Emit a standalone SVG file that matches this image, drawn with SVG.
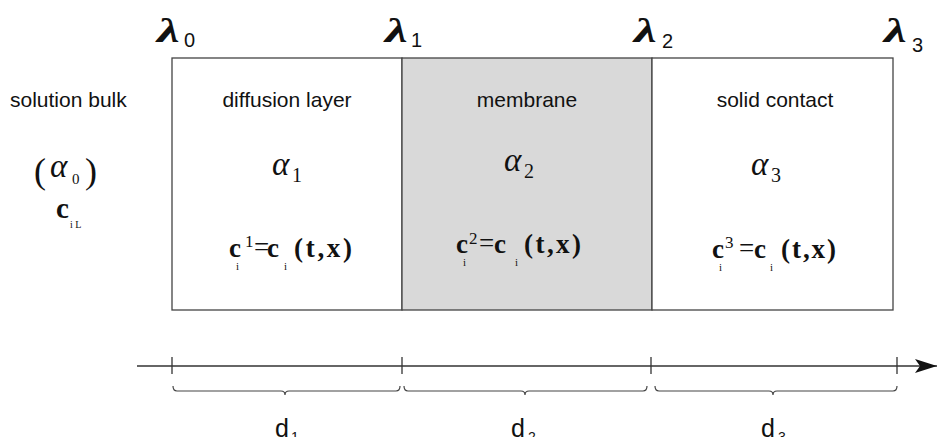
<svg xmlns="http://www.w3.org/2000/svg" width="939" height="437" viewBox="0 0 939 437">
<style>
.box{stroke:#444;stroke-width:1.3;}
.sans{font-family:"Liberation Sans",Arial,sans-serif;fill:#111;}
.lbl{font-size:21px;}
.lam{font-family:"Liberation Serif","Times New Roman",serif;font-weight:bold;font-style:italic;font-size:33px;fill:#111;}
.lsub{font-family:"Liberation Sans",Arial,sans-serif;font-size:20px;fill:#111;}
.alpha{font-family:"Liberation Serif","Times New Roman",serif;font-style:italic;font-size:33px;fill:#111;}
.asub{font-family:"Liberation Serif","Times New Roman",serif;font-size:20px;fill:#111;}
.paren{font-family:"Liberation Serif","Times New Roman",serif;font-size:36px;fill:#111;}
.eq{font-family:"Liberation Serif","Times New Roman",serif;font-weight:bold;font-size:27px;fill:#111;}
.sub{font-family:"Liberation Serif","Times New Roman",serif;font-size:11px;fill:#111;}
.sup{font-family:"Liberation Serif","Times New Roman",serif;font-size:17px;fill:#111;}
.d{font-family:"Liberation Sans",Arial,sans-serif;font-size:25px;fill:#111;}
.dsub{font-family:"Liberation Sans",Arial,sans-serif;font-size:14px;fill:#111;}
.axis{stroke:#333;stroke-width:1.3;fill:none;}
.brace{stroke:#444;stroke-width:1.2;fill:none;}
</style>
<defs>
<marker id="arr" markerWidth="24" markerHeight="16" refX="22" refY="7" orient="auto" markerUnits="userSpaceOnUse">
<path d="M0,0 L22,7 L0,14 L5,7 Z" fill="#111"/>
</marker>
</defs>
<rect width="939" height="437" fill="#fff"/>

<g id="bulk">
<text class="sans lbl" x="10" y="107">solution bulk</text>
<text class="paren" x="34" y="183">(</text>
<text class="alpha" x="50" y="177">α</text>
<text class="asub" x="72" y="184" style="font-size:15px">0</text>
<text class="paren" x="85" y="183">)</text>
<text class="eq" x="56" y="218" style="font-size:29px">c</text>
<text class="sub" x="70" y="228" style="font-size:10px">i L</text>
</g>

<g id="diffusion-layer">
<rect class="box" x="172" y="58" width="230" height="252" fill="#fff"/>
<text class="sans lbl" x="287" y="107" text-anchor="middle">diffusion layer</text>
<text class="alpha" x="272" y="175">α</text>
<text class="asub" x="292" y="182">1</text>
<text class="eq" x="229" y="257">c</text>
<text class="sub" x="236" y="270">i</text>
<text class="sup" x="245" y="247">1</text>
<text class="eq" x="254" y="256" style="font-weight:normal">=</text>
<text class="eq" x="267" y="257">c</text>
<text class="sub" x="284" y="270">i</text>
<text class="eq" x="294" y="257" textLength="58" lengthAdjust="spacing">(t,x)</text>
</g>

<g id="membrane">
<rect class="box" x="402" y="58" width="250" height="252" fill="#d9d9d9"/>
<text class="sans lbl" x="527" y="107" text-anchor="middle">membrane</text>
<text class="alpha" x="504" y="171">α</text>
<text class="asub" x="524" y="178">2</text>
<text class="eq" x="456" y="253">c</text>
<text class="sub" x="463" y="266">i</text>
<text class="sup" x="469" y="244">2</text>
<text class="eq" x="479" y="252" style="font-weight:normal">=</text>
<text class="eq" x="494" y="253">c</text>
<text class="sub" x="515" y="266">i</text>
<text class="eq" x="524" y="253" textLength="57" lengthAdjust="spacing">(t,x)</text>
</g>

<g id="solid-contact">
<rect class="box" x="652" y="58" width="241" height="252" fill="#fff"/>
<text class="sans lbl" x="775" y="107" text-anchor="middle">solid contact</text>
<text class="alpha" x="751" y="175">α</text>
<text class="asub" x="771" y="182">3</text>
<text class="eq" x="712" y="258">c</text>
<text class="sub" x="719" y="271">i</text>
<text class="sup" x="725" y="248">3</text>
<text class="eq" x="739" y="257" style="font-weight:normal">=</text>
<text class="eq" x="754" y="258">c</text>
<text class="sub" x="770" y="271">i</text>
<text class="eq" x="781" y="258" textLength="55" lengthAdjust="spacing">(t,x)</text>
</g>

<g id="boundaries">
<text class="lam" transform="translate(157,42) scale(1.55,1)">λ</text><text class="lsub" x="184" y="47">0</text>
<text class="lam" transform="translate(385,42) scale(1.55,1)">λ</text><text class="lsub" x="411" y="47">1</text>
<text class="lam" transform="translate(634,42) scale(1.55,1)">λ</text><text class="lsub" x="662" y="48">2</text>
<text class="lam" transform="translate(884,42) scale(1.55,1)">λ</text><text class="lsub" x="912" y="52">3</text>
</g>

<g id="connectors">
<line class="axis" x1="137" y1="366" x2="937" y2="366" marker-end="url(#arr)"/>
<line class="axis" x1="172" y1="357" x2="172" y2="374"/>
<line class="axis" x1="402" y1="357" x2="402" y2="374"/>
<line class="axis" x1="651" y1="357" x2="651" y2="374"/>
<line class="axis" x1="897" y1="357" x2="897" y2="374"/>
<path class="brace" d="M173,386 Q173,391 177,391 L281,391 Q285,391 285,395 Q285,391 289,391 L396,391 Q400,391 400,386"/>
<path class="brace" d="M404,386 Q404,391 408,391 L521,391 Q525,391 525,395 Q525,391 529,391 L643,391 Q647,391 647,386"/>
<path class="brace" d="M655,386 Q655,391 659,391 L769,391 Q773,391 773,395 Q773,391 777,391 L893,391 Q897,391 897,386"/>
</g>

<g id="lengths">
<text class="d" x="275" y="437">d</text><text class="dsub" x="291" y="442">1</text>
<text class="d" x="511" y="437">d</text><text class="dsub" x="528" y="442">2</text>
<text class="d" x="761" y="437">d</text><text class="dsub" x="778" y="442">3</text>
</g>
</svg>
